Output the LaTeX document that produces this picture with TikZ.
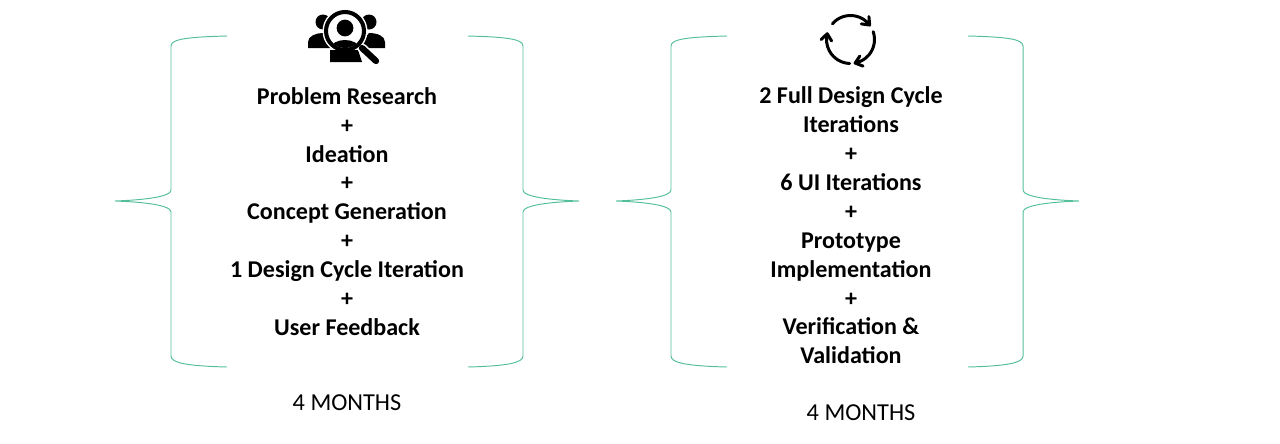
\documentclass[tikz,border=0pt]{standalone}
\usepackage{fontspec}
\setmainfont{Carlito}
\usepackage{xcolor}
\usetikzlibrary{arrows.meta}

\definecolor{bracegreen}{RGB}{84,190,155}

\tikzset{
	brace/.style={draw=bracegreen,line width=0.55pt},
	steps/.style={align=center,font=\fontsize{13.7}{16.44}\selectfont\bfseries,inner sep=0pt},
	months/.style={font=\fontsize{13.85}{19}\selectfont,inner sep=0pt},
}

% #1 end of the arms, #2 straight part, #3 tip
\newcommand{\bracepath}[3]{
	\draw[brace] (#1,36) .. controls ({#2+(#1-#2)*0.3},37) and (#2,39) .. (#2,46) -- (#2,190)
		.. controls (#2,197) and ({#2+(#3-#2)*0.5},200) .. (#3,201)
		.. controls ({#2+(#3-#2)*0.5},202) and (#2,205) .. (#2,212) -- (#2,356)
		.. controls (#2,363) and ({#2+(#1-#2)*0.3},366) .. (#1,367);
}

\begin{document}
\begin{tikzpicture}[x=0.02cm,y=-0.02cm]
		\useasboundingbox (0,0) rectangle (1280,443);
		
		\bracepath{227}{171}{115}
		\bracepath{468}{523}{579}
		\bracepath{727}{671}{616}
		\bracepath{968}{1023}{1079}
		
		\node[steps] (research) at (347,211.5) {Problem Research\\+\\Ideation\\+\\Concept Generation\\+\\1 Design Cycle Iteration\\+\\User Feedback};
		\node[steps] (design) at (851,225.5) {2 Full Design Cycle\\Iterations\\+\\6 UI Iterations\\+\\Prototype\\Implementation\\+\\Verification \&\\Validation};
		\node[months] (monthsa) at (347,402.5) {4 MONTHS};
		\node[months] (monthsb) at (861,412.5) {4 MONTHS};
		
		% people under the lens
		\begin{scope}[black]
			\fill (323,22) circle (7.5);
			\fill (369,22) circle (7.5);
			\fill (308,48) -- (308,42) .. controls (308,36) and (316,33) .. (323,33) -- (335,48) -- cycle;
			\fill (385,48) -- (385,42) .. controls (385,36) and (377,33) .. (369,33) -- (357,48) -- cycle;
			\fill[white] (345,31) circle (22.5);
			\fill (330,62) -- (330,50) -- (358,50) -- (362,62) -- cycle;
			\draw[white,line width=5.4pt,line cap=round] (362,48) -- (376,61);
			\draw[line width=2.3pt] (345,31) circle (19);
			\draw[line width=3.6pt,line cap=round] (362,48) -- (376,61);
			\fill (345,28) circle (8.4);
			\begin{scope}
				\clip (345,31) circle (17);
				\fill (329,50) .. controls (331,43) and (338,40) .. (345,40) .. controls (352,40) and (359,43) .. (361,50) -- cycle;
			\end{scope}
		\end{scope}
		
		% three arrows going round
		\foreach \from/\to in {-139/-37,-19/79,92/194} {
			\draw[line width=1.7pt,line cap=round,line join=round] (850.5,39.5) ++(\from:24) arc[start angle=\from,end angle=\to,radius=24]
				++({\to-58}:8.5) -- ++({\to+122}:8.5) -- ++({\to-135}:8.5);
		}
\end{tikzpicture}
\end{document}
